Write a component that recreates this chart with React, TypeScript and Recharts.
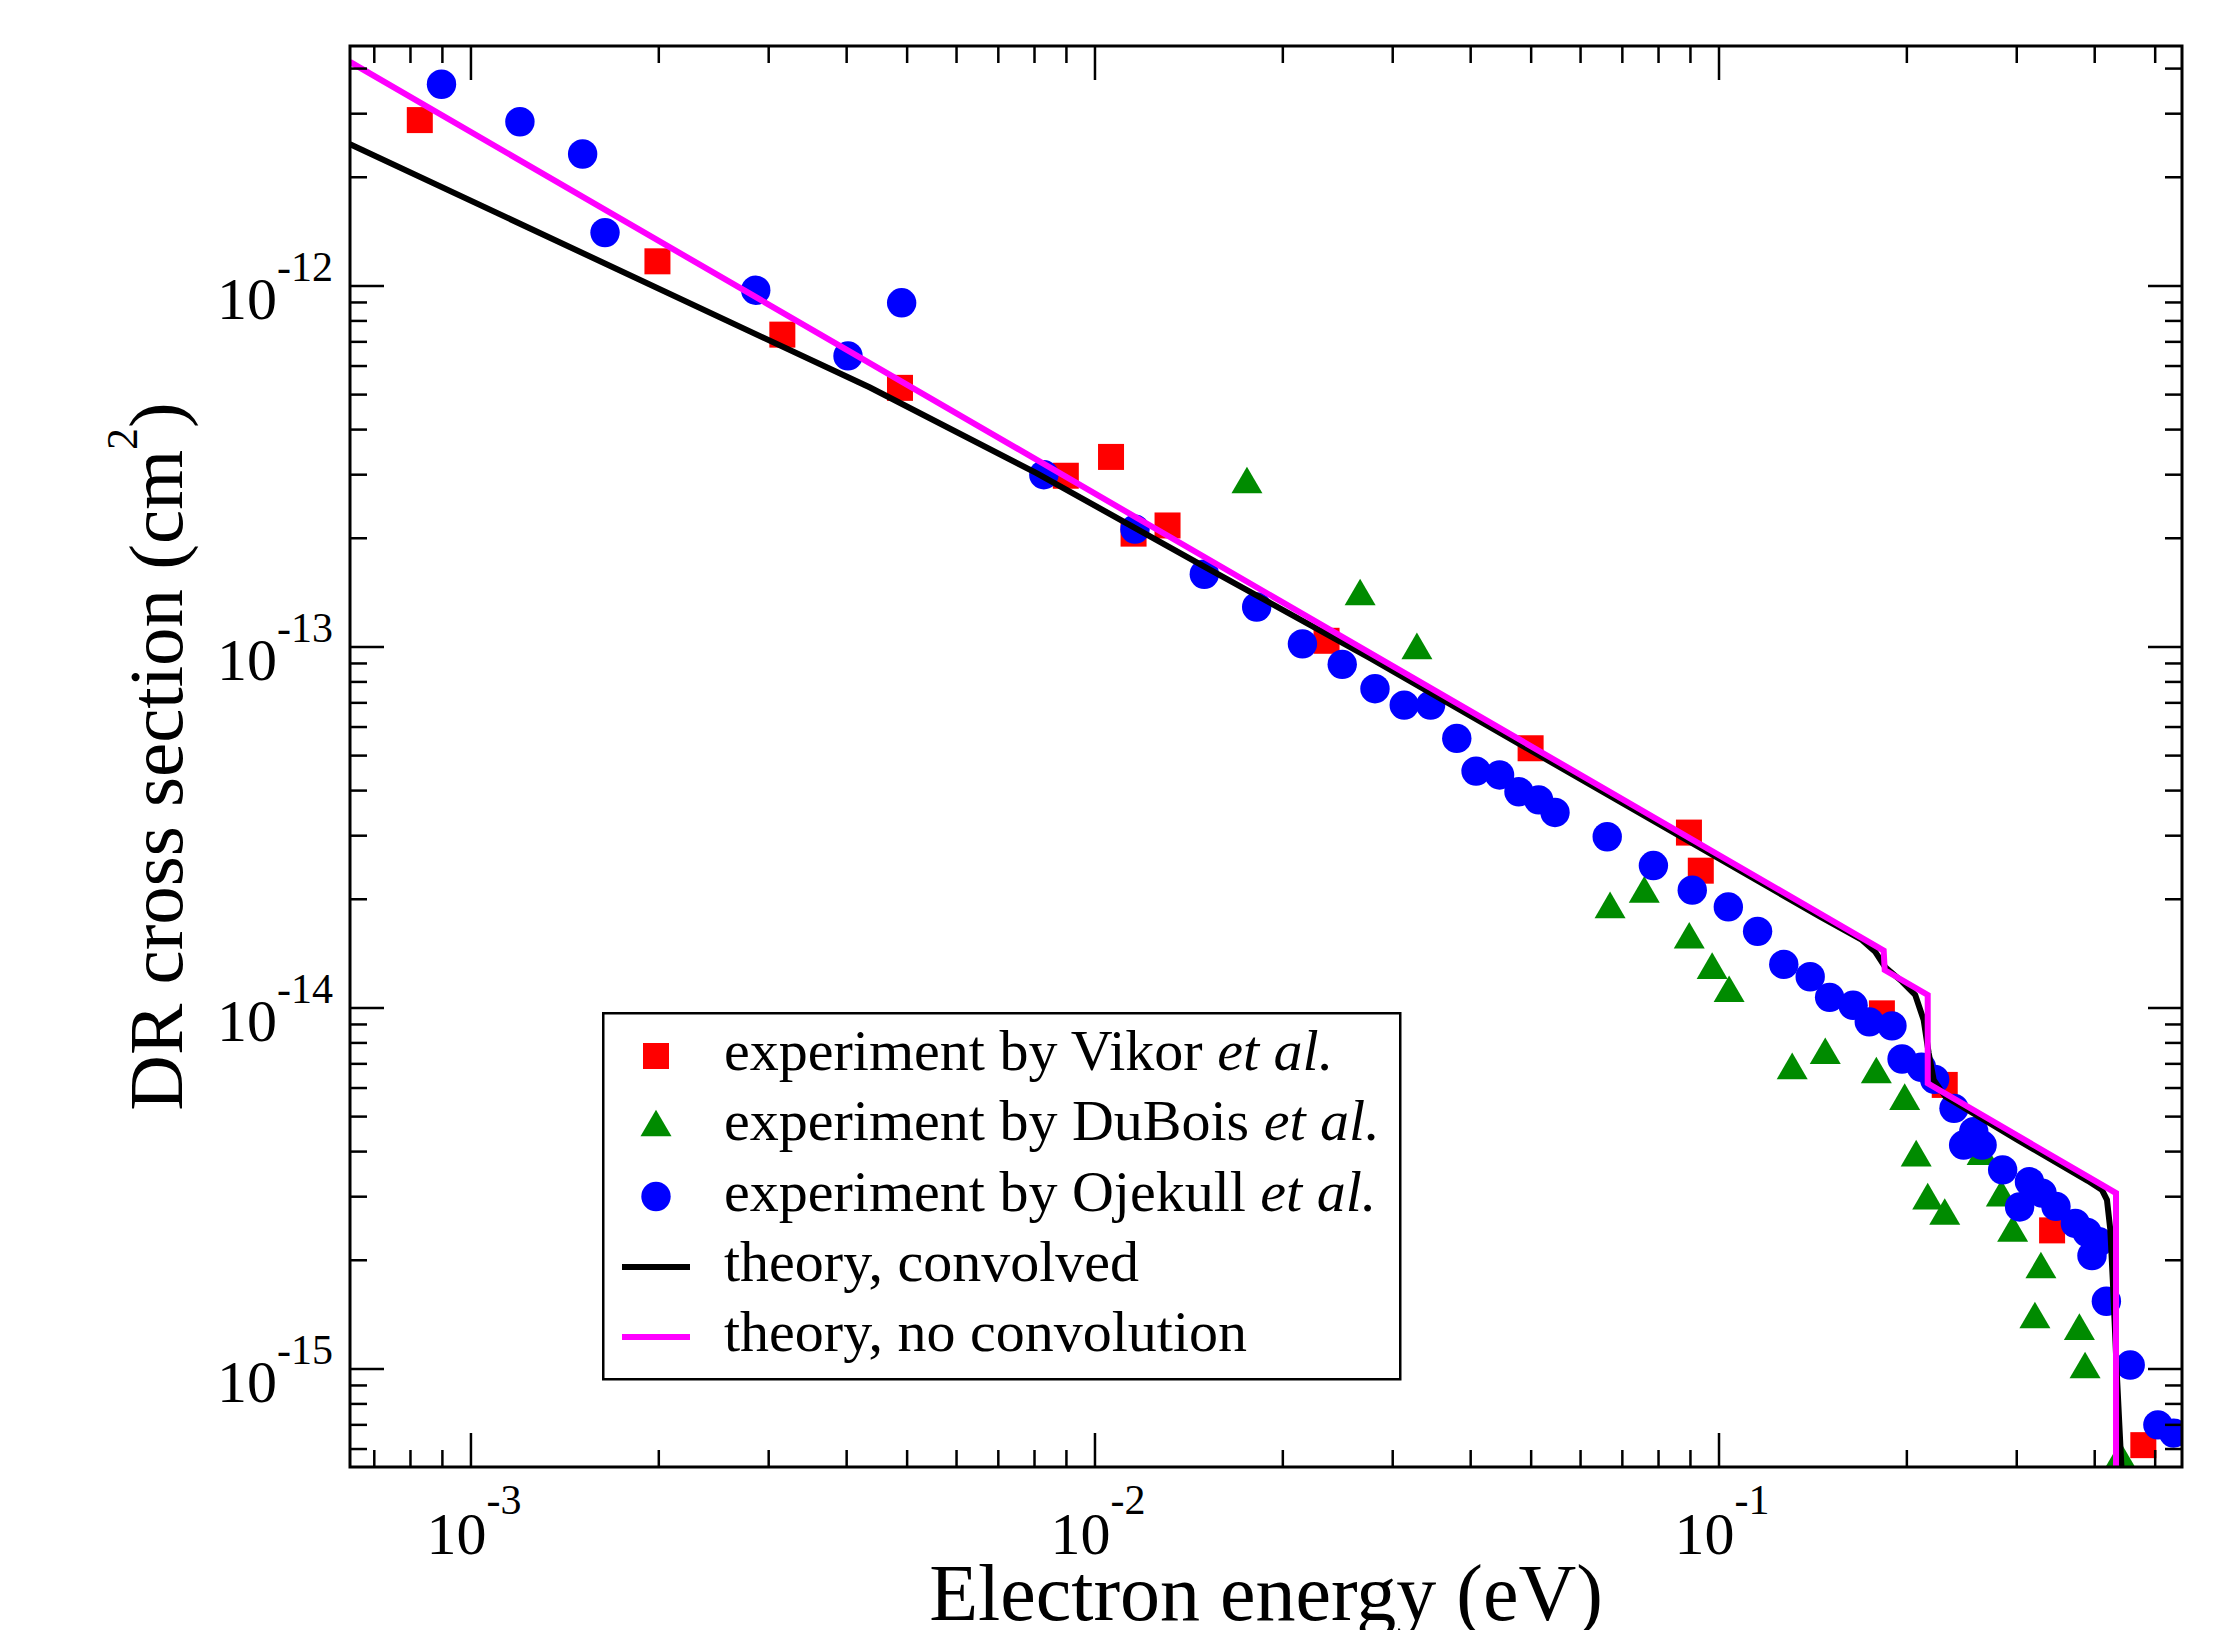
import React from 'react';
import { ComposedChart, XAxis, YAxis, Scatter, Line, ReferenceArea, Legend } from 'recharts';

// ---------- data (energy in eV, cross section in cm^2) ----------
const vikorE = [8.28e-4, 1.99e-3, 3.155e-3, 4.87e-3, 8.98e-3, 1.061e-2, 1.153e-2, 1.307e-2, 2.35e-2, 4.99e-2, 8.95e-2, 9.35e-2, 0.1824, 0.23, 0.3418, 0.4786];
const vikorS = [2.88e-12, 1.17e-12, 7.33e-13, 5.22e-13, 2.98e-13, 3.36e-13, 2.06e-13, 2.17e-13, 1.04e-13, 5.24e-14, 3.06e-14, 2.4e-14, 9.66e-15, 6.12e-15, 2.42e-15, 6.15e-16];

const duboisE = [1.752e-2, 2.66e-2, 3.28e-2, 6.69e-2, 7.59e-2, 8.96e-2, 9.75e-2, 0.1038, 0.131, 0.148, 0.1787, 0.1984, 0.207, 0.216, 0.23, 0.264, 0.2834, 0.2955, 0.328, 0.3208, 0.378, 0.386, 0.4396];
const duboisS = [2.9e-13, 1.42e-13, 1.007e-13, 1.93e-14, 2.13e-14, 1.59e-14, 1.31e-14, 1.13e-14, 6.91e-15, 7.61e-15, 6.73e-15, 5.68e-15, 3.96e-15, 3.01e-15, 2.73e-15, 4.0e-15, 3.07e-15, 2.45e-15, 1.94e-15, 1.41e-15, 1.31e-15, 1.025e-15, 5.78e-16];

const ojekullE = [8.97e-4, 1.198e-3, 1.51e-3, 1.64e-3, 2.86e-3, 4.02e-3, 4.9e-3, 8.28e-3, 1.159e-2, 1.497e-2, 1.816e-2, 2.15e-2, 2.49e-2, 2.81e-2, 3.13e-2, 3.45e-2, 3.8e-2, 4.08e-2, 4.45e-2, 4.78e-2, 5.14e-2, 5.46e-2, 6.62e-2, 7.85e-2, 9.06e-2, 0.1035, 0.1153, 0.127, 0.14, 0.1504, 0.164, 0.1741, 0.1893, 0.1965, 0.211, 0.2216, 0.238, 0.2466, 0.256, 0.264, 0.2848, 0.3032, 0.3144, 0.3293, 0.3467, 0.3724, 0.3888, 0.396, 0.406, 0.4176, 0.456, 0.505, 0.5355];
const ojekullS = [3.62e-12, 2.85e-12, 2.32e-12, 1.405e-12, 9.73e-13, 6.4e-13, 8.98e-13, 3.0e-13, 2.12e-13, 1.59e-13, 1.29e-13, 1.02e-13, 8.95e-14, 7.66e-14, 6.9e-14, 6.9e-14, 5.58e-14, 4.53e-14, 4.42e-14, 3.97e-14, 3.77e-14, 3.48e-14, 2.98e-14, 2.48e-14, 2.12e-14, 1.905e-14, 1.63e-14, 1.32e-14, 1.22e-14, 1.07e-14, 1.017e-14, 9.15e-15, 8.92e-15, 7.22e-15, 6.85e-15, 6.34e-15, 5.27e-15, 4.17e-15, 4.54e-15, 4.17e-15, 3.56e-15, 2.81e-15, 3.3e-15, 3.07e-15, 2.82e-15, 2.53e-15, 2.39e-15, 2.06e-15, 2.25e-15, 1.54e-15, 1.025e-15, 7.0e-16, 6.64e-16];

const convE = [6.4e-4, 4.36e-3, 8.06e-3, 1.497e-2, 2.76e-2, 0.1452, 0.1695, 0.178, 0.1847, 0.1965, 0.2063, 0.2128, 0.2168, 0.2208, 0.2305, 0.3, 0.39, 0.411, 0.4185, 0.4237, 0.4276, 0.4345, 0.4414, 0.4435];
const convS = [2.47e-12, 5.23e-13, 3.03e-13, 1.67e-13, 9.31e-14, 1.79e-14, 1.543e-14, 1.43e-14, 1.297e-14, 1.183e-14, 1.086e-14, 9.26e-15, 7.49e-15, 6.32e-15, 5.68e-15, 4.32e-15, 3.32e-15, 3.13e-15, 2.94e-15, 2.43e-15, 1.76e-15, 9.33e-16, 5.37e-16, 1e-16];

const rawE = [6.4e-4, 0.1836, 0.1843, 0.216, 0.216, 0.4327, 0.4327];
const rawS = [4.173e-12, 1.442e-14, 1.274e-14, 1.086e-14, 6.18e-15, 3.07e-15, 1e-16];

// ---------- axes ----------
const X_DOMAIN = [6.4e-4, 0.552];
const Y_DOMAIN = [5.35e-16, 4.62e-12];
const X_MAJOR = [1e-3, 1e-2, 1e-1];
const X_MAJOR_EXP = ['-3', '-2', '-1'];
const X_MINOR = [7e-4, 8e-4, 9e-4, 2e-3, 3e-3, 4e-3, 5e-3, 6e-3, 7e-3, 8e-3, 9e-3, 2e-2, 3e-2, 4e-2, 5e-2, 6e-2, 7e-2, 8e-2, 9e-2, 0.2, 0.3, 0.4, 0.5];
const Y_MAJOR = [1e-15, 1e-14, 1e-13, 1e-12];
const Y_MAJOR_EXP = ['-15', '-14', '-13', '-12'];
const Y_MINOR = [6e-16, 7e-16, 8e-16, 9e-16, 2e-15, 3e-15, 4e-15, 5e-15, 6e-15, 7e-15, 8e-15, 9e-15, 2e-14, 3e-14, 4e-14, 5e-14, 6e-14, 7e-14, 8e-14, 9e-14, 2e-13, 3e-13, 4e-13, 5e-13, 6e-13, 7e-13, 8e-13, 9e-13, 2e-12, 3e-12, 4e-12];

const LEGEND_LABELS = ['experiment by Vikor ', 'experiment by DuBois ', 'experiment by Ojekull ', 'theory, convolved', 'theory, no convolution'];

const zip = (xs: number[], ys: number[]) => xs.map((x, i) => ({ x, y: ys[i] }));
const vikor = zip(vikorE, vikorS);
const dubois = zip(duboisE, duboisS);
const ojekull = zip(ojekullE, ojekullS);
const convolved = zip(convE, convS);
const noConv = zip(rawE, rawS);
const X_TICKS = [...X_MINOR, ...X_MAJOR].sort((a, b) => a - b);
const Y_TICKS = [...Y_MINOR, ...Y_MAJOR].sort((a, b) => a - b);

// ---------- styling ----------
const FONT = '"Liberation Serif", "Times New Roman", serif';
const W = 2219;
const H = 1630;
const PLOT = { left: 350, right: 2182, top: 46, bottom: 1467 };
const MAJOR_LEN = 34;
const MINOR_LEN = 17;
const LINE_W = 6;
const RED = '#ff0000';
const GREEN = '#008b00';
const BLUE = '#0000ff';
const MAGENTA = '#ff00ff';

const majorIndex = (v: number, majors: number[]) => majors.findIndex((m) => Math.abs(m - v) / m < 1e-6);

const renderXTick = (props: any) => {
  const { x, payload } = props;
  const idx = majorIndex(payload.value, X_MAJOR);
  const len = idx >= 0 ? MAJOR_LEN : MINOR_LEN;
  return (
    <g>
      <line x1={x} y1={PLOT.bottom} x2={x} y2={PLOT.bottom - len} stroke="#000" strokeWidth={2.5} />
      <line x1={x} y1={PLOT.top} x2={x} y2={PLOT.top + len} stroke="#000" strokeWidth={2.5} />
      {idx >= 0 && (
        <text x={x + 3} y={PLOT.bottom + 87} textAnchor="middle" fontFamily={FONT} fontSize={60} fill="#000">
          10
          <tspan dy={-40} fontSize={42}>{X_MAJOR_EXP[idx]}</tspan>
        </text>
      )}
    </g>
  );
};

const renderYTick = (props: any) => {
  const { y, payload } = props;
  const idx = majorIndex(payload.value, Y_MAJOR);
  const len = idx >= 0 ? MAJOR_LEN : MINOR_LEN;
  return (
    <g>
      <line x1={PLOT.left} y1={y} x2={PLOT.left + len} y2={y} stroke="#000" strokeWidth={2.5} />
      <line x1={PLOT.right} y1={y} x2={PLOT.right - len} y2={y} stroke="#000" strokeWidth={2.5} />
      {idx >= 0 && (
        <text x={PLOT.left - 17} y={y + 33} textAnchor="end" fontFamily={FONT} fontSize={60} fill="#000">
          10
          <tspan dy={-38} fontSize={42}>{Y_MAJOR_EXP[idx]}</tspan>
        </text>
      )}
    </g>
  );
};

const renderXLabel = () => (
  <text x={(PLOT.left + PLOT.right) / 2} y={1620} textAnchor="middle" fontFamily={FONT} fontSize={80} fill="#000">
    Electron energy (eV)
  </text>
);

const renderYLabel = () => {
  const cx = 182;
  const cy = (PLOT.top + PLOT.bottom) / 2;
  return (
    <text x={cx} y={cy} transform={`rotate(-90 ${cx} ${cy})`} textAnchor="middle" fontFamily={FONT} fontSize={77} fill="#000">
      DR cross section (cm
      <tspan dy={-45} fontSize={44}>2</tspan>
      <tspan dy={45}>)</tspan>
    </text>
  );
};

const squareShape = (p: any) => <rect x={p.cx - 13} y={p.cy - 13} width={26} height={26} fill={RED} />;
const triangleShape = (p: any) => (
  <polygon points={`${p.cx},${p.cy - 13.3} ${p.cx + 15.5},${p.cy + 13.3} ${p.cx - 15.5},${p.cy + 13.3}`} fill={GREEN} />
);
const circleShape = (p: any) => <circle cx={p.cx} cy={p.cy} r={14.7} fill={BLUE} />;

const renderLegend = () => {
  const textX = 122;
  const base = [58, 128, 198.5, 268.5, 338.5];
  const sx = 54;
  const italic = <tspan fontStyle="italic">et al.</tspan>;
  return (
    <svg width={800} height={370} style={{ display: 'block' }}>
      <rect x={1.25} y={1.25} width={797} height={366} fill="#fff" stroke="#000" strokeWidth={2.5} />
      <rect x={sx - 13} y={base[0] - 14 - 13} width={26} height={26} fill={RED} />
      <polygon points={`${sx},${base[1] - 17 - 13.3} ${sx + 15.5},${base[1] - 17 + 13.3} ${sx - 15.5},${base[1] - 17 + 13.3}`} fill={GREEN} />
      <circle cx={sx} cy={base[2] - 14} r={14.7} fill={BLUE} />
      <line x1={20} x2={88} y1={base[3] - 13.5} y2={base[3] - 13.5} stroke="#000" strokeWidth={LINE_W} />
      <line x1={20} x2={88} y1={base[4] - 13.5} y2={base[4] - 13.5} stroke={MAGENTA} strokeWidth={LINE_W} />
      {LEGEND_LABELS.map((lab, i) => (
        <text key={i} x={textX} y={base[i]} fontFamily={FONT} fontSize={58} fill="#000">
          {lab}
          {i < 3 ? italic : null}
        </text>
      ))}
    </svg>
  );
};

export default function App() {
  return (
    <div style={{ position: 'absolute', left: 0, top: 0, width: W, height: H, background: '#fff' }}>
      <ComposedChart width={W} height={H} margin={{ top: PLOT.top, right: W - PLOT.right, bottom: 0, left: 0 }}>
        <XAxis
          dataKey="x"
          type="number"
          scale="log"
          domain={X_DOMAIN}
          allowDataOverflow
          ticks={X_TICKS}
          interval={0}
          height={H - PLOT.bottom}
          tickSize={0}
          tickMargin={0}
          tickLine={false}
          axisLine={false}
          tick={renderXTick}
          label={renderXLabel}
        />
        <YAxis
          dataKey="y"
          type="number"
          scale="log"
          domain={Y_DOMAIN}
          allowDataOverflow
          ticks={Y_TICKS}
          interval={0}
          width={PLOT.left}
          tickSize={0}
          tickMargin={0}
          tickLine={false}
          axisLine={false}
          tick={renderYTick}
          label={renderYLabel}
        />
        <Scatter name="Vikor" data={vikor} dataKey="y" shape={squareShape} fill={RED} isAnimationActive={false} />
        <Scatter name="DuBois" data={dubois} dataKey="y" shape={triangleShape} fill={GREEN} isAnimationActive={false} />
        <Scatter name="Ojekull" data={ojekull} dataKey="y" shape={circleShape} fill={BLUE} isAnimationActive={false} />
        <Line
          name="convolved"
          data={convolved}
          dataKey="y"
          type="linear"
          stroke="#000"
          strokeWidth={LINE_W}
          dot={false}
          activeDot={false}
          isAnimationActive={false}
          zIndex={700}
        />
        <Line
          name="no convolution"
          data={noConv}
          dataKey="y"
          type="linear"
          stroke={MAGENTA}
          strokeWidth={LINE_W}
          strokeLinejoin="miter"
          dot={false}
          activeDot={false}
          isAnimationActive={false}
          zIndex={710}
        />
        <ReferenceArea
          x1={X_DOMAIN[0]}
          x2={X_DOMAIN[1]}
          y1={Y_DOMAIN[0]}
          y2={Y_DOMAIN[1]}
          fill="none"
          fillOpacity={0}
          stroke="#000"
          strokeWidth={3}
          ifOverflow="visible"
          zIndex={720}
        />
        <Legend
          layout="vertical"
          align="center"
          verticalAlign="middle"
          content={renderLegend}
          wrapperStyle={{ position: 'absolute', left: 602, top: 1012, width: 800, height: 370 }}
        />
      </ComposedChart>
    </div>
  );
}
